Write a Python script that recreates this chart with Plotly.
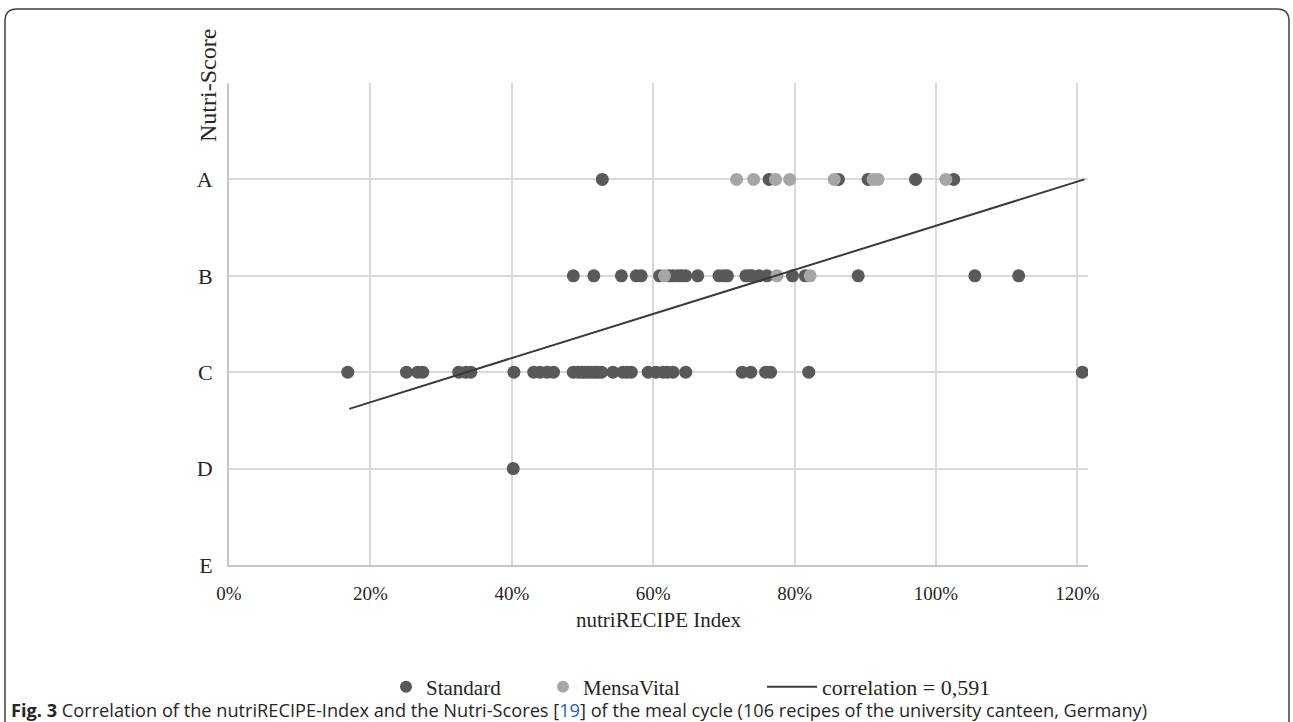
import plotly.graph_objects as go

# ---------------- data ----------------
grades = ["E", "D", "C", "B", "A"]          # Nutri-Score levels, bottom to top
grade_pos = [0, 1, 2, 3, 4]

# nutriRECIPE Index (%) per recipe, grouped by Nutri-Score
std_A = [52.8, 76.4, 86.2, 90.4, 97.1, 102.5]
std_B = [48.7, 51.6, 55.5, 57.6, 58.3, 60.9, 62.2, 62.8, 63.5, 64.0, 64.6, 66.3,
         69.3, 70.0, 70.5, 73.1, 73.6, 74.0, 75.0, 76.1, 79.7, 81.5, 89.0, 105.5, 111.7]
std_C = [16.8, 25.1, 26.7, 27.4, 32.5, 33.5, 34.2, 40.3, 43.1, 44.0, 45.0, 45.9,
         48.7, 49.4, 49.9, 50.3, 50.8, 51.3, 51.8, 52.2, 52.7, 54.3, 55.7, 56.3,
         56.9, 59.3, 60.4, 61.4, 62.0, 62.8, 64.6, 72.6, 73.8, 75.9, 76.6, 82.0, 120.7]
std_D = [40.2]

mv_A = [71.8, 74.2, 77.3, 79.3, 85.6, 91.1, 91.8, 101.4]
mv_B = [61.6, 77.5, 82.2]

# regression line end points
trend_x = [17.0, 121.0]
trend_y = [1.62, 4.0]
trend_label = "correlation = 0,591"

x_ticks = [0, 20, 40, 60, 80, 100, 120]

# ---------------- layout geometry ----------------
W, H = 1293, 722
L, R, T, B = 229, 1088, 83, 565   # plot area in pixels


def px(xp):
    return (xp - L) / (R - L)


def py(yp):
    return (B - yp) / (B - T)


std_x = std_A + std_B + std_C + std_D
std_y = [4] * len(std_A) + [3] * len(std_B) + [2] * len(std_C) + [1] * len(std_D)
mv_x = mv_A + mv_B
mv_y = [4] * len(mv_A) + [3] * len(mv_B)

DARK = "#595959"
LIGHT = "#a6a6a6"
SERIF = "Liberation Serif"
TXT = "#262626"

fig = go.Figure()
fig.add_trace(go.Scatter(x=std_x, y=std_y, mode="markers", name="Standard",
                         marker=dict(size=13, color=DARK), legend="legend"))
fig.add_trace(go.Scatter(x=mv_x, y=mv_y, mode="markers", name="MensaVital",
                         marker=dict(size=13, color=LIGHT), legend="legend2"))
fig.add_trace(go.Scatter(x=trend_x, y=trend_y, mode="lines", name=trend_label,
                         line=dict(color="#3a3a3a", width=2), legend="legend3"))

# rounded outer frame
x0, x1 = px(5), px(1289)
y0, y1 = py(9), py(745)
rx = 12 / (R - L)
ry = 12 / (B - T)
path = (f"M {x0} {y1} L {x0} {y0 - ry} Q {x0} {y0} {x0 + rx} {y0} "
        f"L {x1 - rx} {y0} Q {x1} {y0} {x1} {y0 - ry} L {x1} {y1}")


def leg(xp, size=21, **kw):
    d = dict(x=px(xp), xanchor="left", y=py(687), yanchor="middle",
             font=dict(family=SERIF, size=size, color=TXT),
             bgcolor="rgba(0,0,0,0)", borderwidth=0)
    d.update(kw)
    return d


fig.update_layout(
    width=W, height=H,
    margin=dict(l=L, r=W - R, t=T, b=H - B),
    paper_bgcolor="white", plot_bgcolor="white",
    font=dict(family=SERIF, color=TXT),
    showlegend=True,
    legend=leg(386, itemsizing="constant"),
    legend2=leg(543, itemsizing="constant"),
    legend3=leg(762, size=22, itemwidth=50),
    shapes=[dict(type="path", xref="paper", yref="paper", path=path,
                 line=dict(color="#404040", width=1.5), layer="above")],
    annotations=[
        dict(text="nutriRECIPE Index", xref="paper", yref="paper", x=0.5, y=py(620),
             xanchor="center", yanchor="middle", showarrow=False,
             font=dict(family=SERIF, size=21, color=TXT)),
        dict(text="Nutri-Score", xref="paper", yref="paper", x=px(208), y=py(86),
             xanchor="center", yanchor="middle", textangle=-90, showarrow=False,
             font=dict(family=SERIF, size=24, color=TXT)),
        dict(text="<b>Fig. 3</b> Correlation of the nutriRECIPE-Index and the Nutri-Scores "
                  "[<span style='color:#1b5fbf'>19</span>] of the meal cycle "
                  "(106 recipes of the university canteen, Germany)",
             xref="paper", yref="paper", x=px(9), y=py(710), xanchor="left",
             yanchor="middle", showarrow=False,
             font=dict(family="Open Sans", size=18.2, color=TXT)),
    ],
)

fig.update_xaxes(range=[0, 121.5], tickvals=x_ticks,
                 ticktext=[f"{v}%" for v in x_ticks],
                 showgrid=True, gridcolor="#d9d9d9", gridwidth=1.5,
                 showline=True, linecolor="#c6c6c6", linewidth=2,
                 zeroline=False, ticks="", ticklabelstandoff=10,
                 tickfont=dict(family=SERIF, size=19, color=TXT))
fig.update_yaxes(range=[0, 5], tickvals=grade_pos + [5], ticktext=grades + [""],
                 showgrid=True, gridcolor="#d9d9d9", gridwidth=1.5,
                 showline=True, linecolor="#c6c6c6", linewidth=2,
                 zeroline=False, ticks="", ticklabelstandoff=10,
                 tickfont=dict(family=SERIF, size=22, color=TXT))

fig.write_html("out.html", config={"displayModeBar": False},
               post_script="document.body.style.margin='0px';")
